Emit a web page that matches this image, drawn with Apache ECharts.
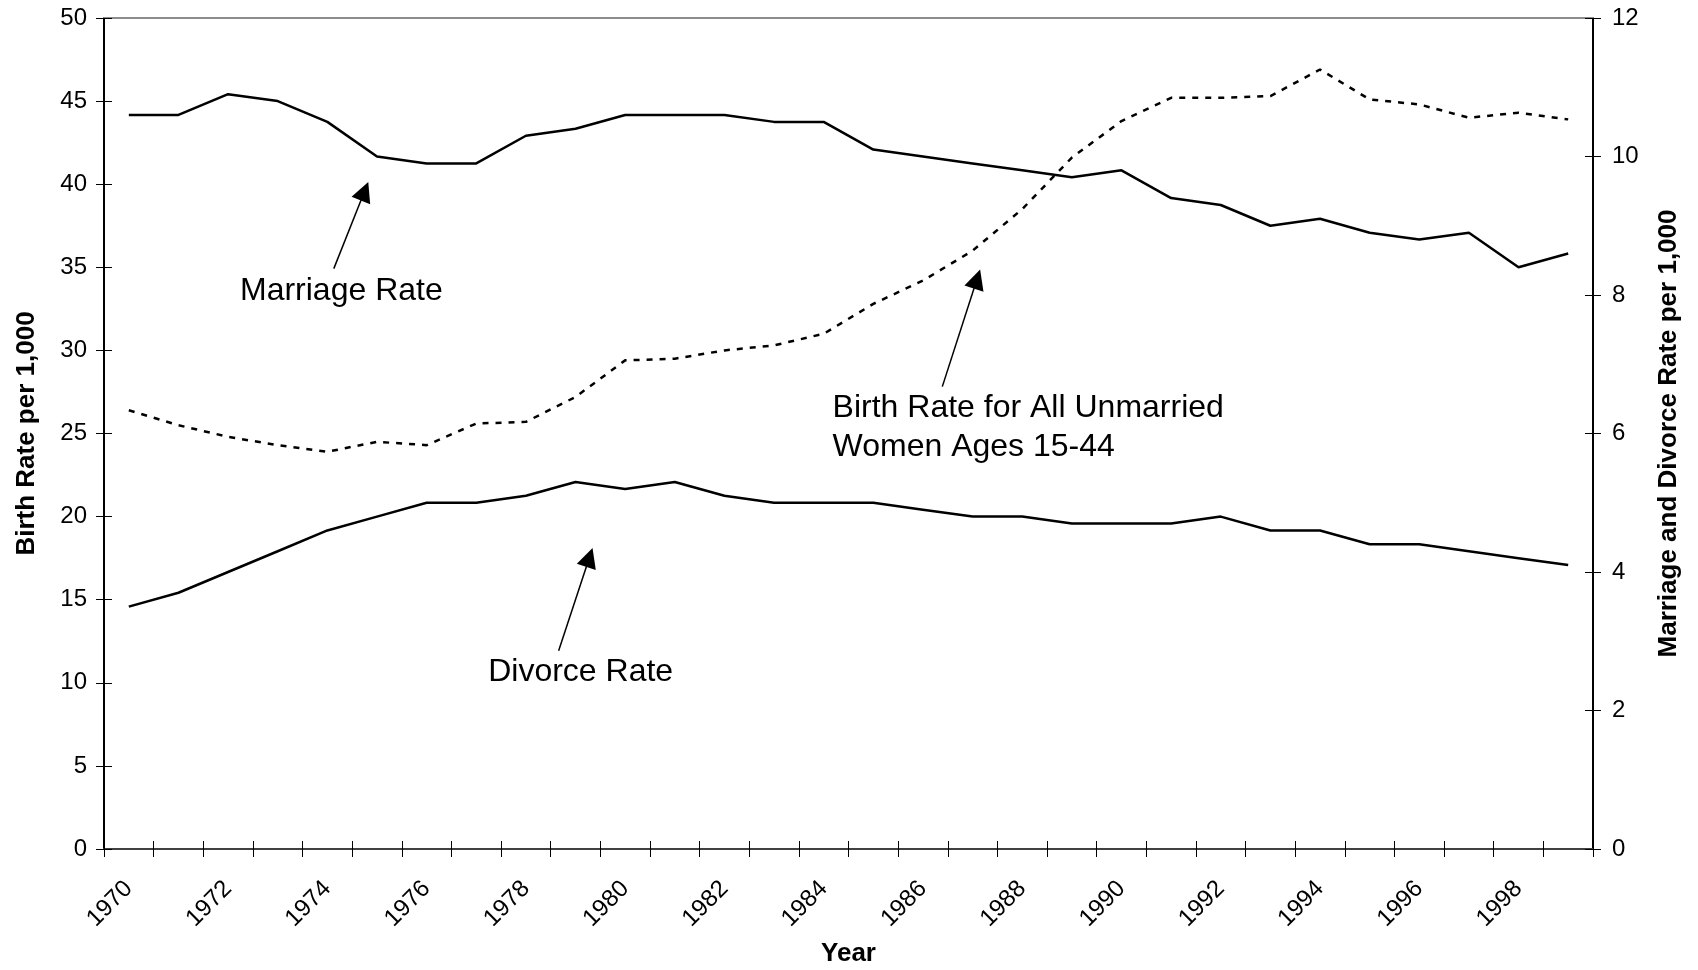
<!DOCTYPE html>
<html>
<head>
<meta charset="utf-8">
<script src="https://cdn.jsdelivr.net/npm/echarts@6/dist/echarts.min.js"></script>
<style>
html,body{margin:0;padding:0;background:#ffffff;}
#chart{width:1698px;height:970px;}
</style>
</head>
<body>
<div id="chart"></div>
<script>
// ---- Data ----
const years = ['1970','1971','1972','1973','1974','1975','1976','1977','1978','1979',
               '1980','1981','1982','1983','1984','1985','1986','1987','1988','1989',
               '1990','1991','1992','1993','1994','1995','1996','1997','1998','1999'];

// Birth rate for all unmarried women ages 15-44 (left axis, per 1,000)
const birthRate = [26.4,25.5,24.8,24.3,23.9,24.5,24.3,25.6,25.7,27.2,
                   29.4,29.5,30.0,30.3,31.0,32.8,34.2,36.0,38.5,41.6,
                   43.8,45.2,45.2,45.3,46.9,45.1,44.8,44.0,44.3,43.9];

// Marriage rate (right axis, per 1,000)
const marriageRate = [10.6,10.6,10.9,10.8,10.5,10.0,9.9,9.9,10.3,10.4,
                      10.6,10.6,10.6,10.5,10.5,10.1,10.0,9.9,9.8,9.7,
                      9.8,9.4,9.3,9.0,9.1,8.9,8.8,8.9,8.4,8.6];

// Divorce rate (right axis, per 1,000)
const divorceRate = [3.5,3.7,4.0,4.3,4.6,4.8,5.0,5.0,5.1,5.3,
                     5.2,5.3,5.1,5.0,5.0,5.0,4.9,4.8,4.8,4.7,
                     4.7,4.7,4.8,4.6,4.6,4.4,4.4,4.3,4.2,4.1];

// Axis tick settings
const leftAxisMax = 50, leftAxisStep = 5;
const rightAxisMax = 12, rightAxisStep = 2;

// Annotation labels: [year position, left-axis value, text]
const annotationLabels = [
  [1972.74, 33.57, 'Marriage Rate'],
  [1984.68, 25.37, 'Birth Rate for All Unmarried\nWomen Ages 15-44'],
  [1977.74, 10.62, 'Divorce Rate']
];
// Annotation arrows: [tail year, tail value, head year, head value] (left-axis units)
const annotationArrows = [
  [1974.63, 34.92, 1975.25, 39.58],
  [1986.89, 27.82, 1987.59, 34.29],
  [1979.16, 11.93, 1979.78, 17.54]
];

// ---- Chart ----
const FONT = "'Liberation Sans', Arial, sans-serif";
const chart = echarts.init(document.getElementById('chart'), null, {renderer: 'canvas'});

const tickStyle = {color: '#000000', width: 1};
const titleStyle = {fontSize: 26, fontWeight: 'bold', color: '#000000', fontFamily: FONT};
const labelStyle = {fontSize: 24, color: '#000000', fontFamily: FONT};

const option = {
  backgroundColor: '#ffffff',
  animation: false,
  textStyle: {fontFamily: FONT},
  grid: {left: 104, right: 105, top: 18, bottom: 121, containLabel: false, outerBoundsMode: 'none'},
  xAxis: [
    {
      type: 'category', data: years, position: 'bottom', boundaryGap: true,
      axisLine: {show: true, onZero: false, lineStyle: {color: '#404040', width: 2}},
      axisTick: {show: true, interval: 0, length: 8, inside: false, lineStyle: tickStyle},
      axisLabel: Object.assign({interval: 1, rotate: 45, margin: 36}, labelStyle),
      splitLine: {show: false},
      name: 'Year', nameLocation: 'middle', nameGap: 92, nameTextStyle: titleStyle
    },
    {
      type: 'category', data: years, position: 'bottom', boundaryGap: true,
      axisLine: {show: false, onZero: false},
      axisTick: {show: true, interval: 0, length: 8, inside: true, lineStyle: tickStyle},
      axisLabel: {show: false}, splitLine: {show: false}
    },
    {
      type: 'value', min: 1970, max: 2000, position: 'top',
      axisLine: {show: true, onZero: false, lineStyle: {color: '#8c8c8c', width: 2}},
      axisTick: {show: false}, axisLabel: {show: false}, splitLine: {show: false}
    }
  ],
  yAxis: [
    {
      type: 'value', min: 0, max: leftAxisMax, interval: leftAxisStep, position: 'left',
      axisLine: {show: true, onZero: false, lineStyle: {color: '#000000', width: 2}},
      axisTick: {show: true, length: 8, inside: false, lineStyle: tickStyle},
      axisLabel: Object.assign({margin: 17}, labelStyle),
      splitLine: {show: false},
      name: 'Birth Rate per 1,000', nameLocation: 'middle', nameGap: 64, nameTextStyle: titleStyle
    },
    {
      type: 'value', min: 0, max: rightAxisMax, interval: rightAxisStep, position: 'right',
      axisLine: {show: true, onZero: false, lineStyle: {color: '#000000', width: 2}},
      axisTick: {show: true, length: 8, inside: false, lineStyle: tickStyle},
      axisLabel: Object.assign({margin: 19}, labelStyle),
      splitLine: {show: false},
      name: 'Marriage and Divorce Rate per 1,000', nameLocation: 'middle', nameGap: 63, nameTextStyle: titleStyle
    },
    {
      type: 'value', min: 0, max: leftAxisMax, interval: leftAxisStep, position: 'left',
      axisLine: {show: false, onZero: false},
      axisTick: {show: true, length: 8, inside: true, lineStyle: tickStyle},
      axisLabel: {show: false}, splitLine: {show: false}
    },
    {
      type: 'value', min: 0, max: rightAxisMax, interval: rightAxisStep, position: 'right',
      axisLine: {show: false, onZero: false},
      axisTick: {show: true, length: 8, inside: true, lineStyle: tickStyle},
      axisLabel: {show: false}, splitLine: {show: false}
    }
  ],
  series: [
    {
      name: 'Birth Rate for All Unmarried Women Ages 15-44', type: 'line',
      xAxisIndex: 0, yAxisIndex: 0, data: birthRate,
      symbol: 'none', silent: true,
      lineStyle: {color: '#000000', width: 2.5, type: [6, 7]}
    },
    {
      name: 'Marriage Rate', type: 'line',
      xAxisIndex: 0, yAxisIndex: 1, data: marriageRate,
      symbol: 'none', silent: true,
      lineStyle: {color: '#000000', width: 2.5, type: 'solid'}
    },
    {
      name: 'Divorce Rate', type: 'line',
      xAxisIndex: 0, yAxisIndex: 1, data: divorceRate,
      symbol: 'none', silent: true,
      lineStyle: {color: '#000000', width: 2.5, type: 'solid'}
    },
    {
      name: 'annotations', type: 'scatter',
      xAxisIndex: 2, yAxisIndex: 0, silent: true,
      symbol: 'circle', symbolSize: 0,
      itemStyle: {color: '#000000', opacity: 1},
      data: annotationLabels.map(a => ({value: [a[0], a[1]], name: a[2]})),
      label: {
        show: true, position: 'right', distance: 0, formatter: '{b}',
        fontSize: 32, lineHeight: 39, color: '#000000', opacity: 1, fontFamily: FONT, align: 'left'
      },
      markLine: {
        silent: true, animation: false,
        symbol: ['none', 'triangle'], symbolSize: 20,
        label: {show: false},
        itemStyle: {color: '#000000'},
        lineStyle: {color: '#000000', width: 1.5, type: 'solid', opacity: 1},
        emphasis: {disabled: true},
        data: annotationArrows.map(a => [{coord: [a[0], a[1]]}, {coord: [a[2], a[3]]}])
      }
    }
  ]
};
chart.setOption(option);
</script>
</body>
</html>
